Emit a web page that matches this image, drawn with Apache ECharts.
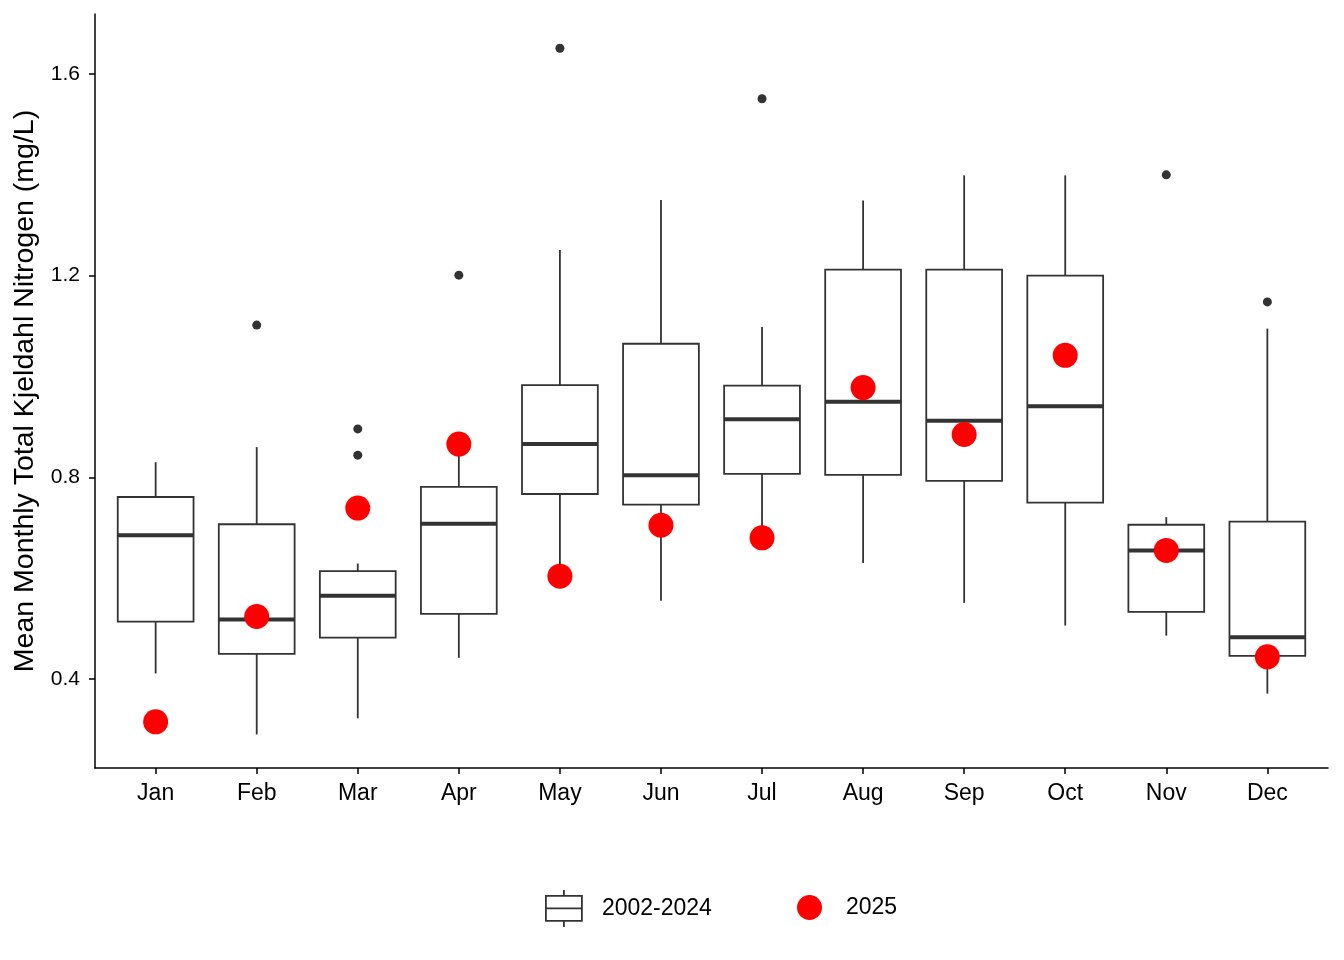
<!DOCTYPE html>
<html>
<head>
<meta charset="utf-8">
<script src="https://cdn.jsdelivr.net/npm/echarts@6/dist/echarts.min.js"></script>
<style>
html,body{margin:0;padding:0;background:#fff;}
#chart{width:1344px;height:960px;}
</style>
</head>
<body>
<div id="chart"></div>
<script>
const months = ['Jan','Feb','Mar','Apr','May','Jun','Jul','Aug','Sep','Oct','Nov','Dec'];
const whiskerLow  = [0.411, 0.290, 0.322, 0.442, 0.610, 0.555, 0.690, 0.630, 0.551, 0.506, 0.486, 0.371];
const q1          = [0.514, 0.450, 0.482, 0.529, 0.767, 0.746, 0.807, 0.805, 0.793, 0.750, 0.533, 0.446];
const median      = [0.685, 0.518, 0.565, 0.708, 0.866, 0.804, 0.915, 0.950, 0.912, 0.941, 0.655, 0.483];
const q3          = [0.761, 0.707, 0.614, 0.781, 0.983, 1.065, 0.982, 1.212, 1.212, 1.200, 0.706, 0.712];
const whiskerHigh = [0.830, 0.860, 0.629, 0.850, 1.251, 1.350, 1.098, 1.349, 1.399, 1.399, 0.721, 1.095];
const outlierMonth = [2, 3, 3, 4, 5, 7, 11, 12];
const outlierValue = [1.102, 0.896, 0.844, 1.201, 1.651, 1.551, 1.400, 1.148];
const values2025  = [0.315, 0.524, 0.739, 0.866, 0.604, 0.705, 0.680, 0.978, 0.885, 1.042, 0.655, 0.444];
const yTicks = [0.4, 0.8, 1.2, 1.6];

const FONT = "'Liberation Sans', Arial, sans-serif";
const INK = '#333333';

const boxData = months.map((m, i) => [i + 1, whiskerLow[i], q1[i], median[i], q3[i], whiskerHigh[i]]);
const outlierData = outlierMonth.map((m, i) => [m, outlierValue[i]]);
const pointData = months.map((m, i) => [i + 1, values2025[i]]);

const chart = echarts.init(document.getElementById('chart'), null, {renderer: 'canvas'});
chart.setOption({
  animation: false,
  backgroundColor: '#ffffff',
  textStyle: {fontFamily: FONT},
  grid: {left: 95, right: 16, top: 14, bottom: 192, containLabel: false, outerBoundsMode: 'none'},
  xAxis: {
    type: 'value',
    min: 0.4,
    max: 12.6,
    splitLine: {show: false},
    axisLine: {show: true, lineStyle: {color: '#000', width: 1.5}},
    axisTick: {show: true, length: 6, lineStyle: {color: '#000', width: 1.5}, customValues: months.map((m, i) => i + 1)},
    axisLabel: {
      customValues: months.map((m, i) => i + 1),
      formatter: v => months[Math.round(v) - 1] || '',
      color: '#000', fontSize: 23, fontFamily: FONT, margin: 14
    }
  },
  yAxis: {
    type: 'value',
    min: 0.2235,
    max: 1.719,
    name: 'Mean Monthly Total Kjeldahl Nitrogen (mg/L)',
    nameLocation: 'middle',
    nameRotate: 90,
    nameGap: 54,
    nameTextStyle: {color: '#000', fontSize: 28.5, fontFamily: FONT},
    splitLine: {show: false},
    axisLine: {show: true, lineStyle: {color: '#000', width: 1.5}},
    axisTick: {show: true, length: 6, lineStyle: {color: '#000', width: 1.5}, customValues: yTicks},
    axisLabel: {
      customValues: yTicks,
      formatter: v => v.toFixed(1),
      color: '#000', fontSize: 21, fontFamily: FONT, margin: 15
    }
  },
  legend: [
    {
      data: ['2002-2024'],
      left: 545, top: 889,
      padding: 0,
      itemWidth: 36, itemHeight: 37,
      icon: 'path://M18,0L18,6M0,6L36,6L36,31L0,31ZM0,18.5L36,18.5M18,31L18,37',
      itemStyle: {color: '#ffffff', borderColor: INK, borderWidth: 1.8},
      textStyle: {color: '#000', fontSize: 23, fontFamily: FONT, padding: [0, 0, 0, 15]},
      selectedMode: false
    },
    {
      data: ['2025'],
      left: 797, top: 895,
      padding: 0,
      itemWidth: 25, itemHeight: 25,
      icon: 'circle',
      itemStyle: {color: '#ff0000', borderWidth: 0, opacity: 1},
      textStyle: {color: '#000', fontSize: 23, fontFamily: FONT, padding: [0, 0, 0, 19]},
      selectedMode: false
    }
  ],
  series: [
    {
      name: '2002-2024',
      type: 'custom',
      itemStyle: {color: '#ffffff', borderColor: INK, borderWidth: 1.8},
      encode: {x: 0, y: [1, 2, 3, 4, 5]},
      data: boxData,
      renderItem: function (params, api) {
        const x = api.value(0);
        const pLo = api.coord([x, api.value(1)]);
        const pQ1 = api.coord([x, api.value(2)]);
        const pMed = api.coord([x, api.value(3)]);
        const pQ3 = api.coord([x, api.value(4)]);
        const pHi = api.coord([x, api.value(5)]);
        const half = api.size([0.75, 0])[0] / 2;
        const cx = pMed[0];
        const lw = 1.8;
        return {
          type: 'group',
          children: [
            {type: 'line', shape: {x1: cx, y1: pQ3[1], x2: cx, y2: pHi[1]}, style: {stroke: INK, lineWidth: lw}},
            {type: 'line', shape: {x1: cx, y1: pQ1[1], x2: cx, y2: pLo[1]}, style: {stroke: INK, lineWidth: lw}},
            {type: 'rect', shape: {x: cx - half, y: pQ3[1], width: 2 * half, height: pQ1[1] - pQ3[1]}, style: {fill: '#ffffff', stroke: INK, lineWidth: lw}},
            {type: 'line', shape: {x1: cx - half, y1: pMed[1], x2: cx + half, y2: pMed[1]}, style: {stroke: INK, lineWidth: 4}}
          ]
        };
      },
      z: 2
    },
    {
      name: 'outliers',
      type: 'scatter',
      data: outlierData,
      symbol: 'circle',
      symbolSize: 9,
      itemStyle: {color: INK, opacity: 1},
      z: 3
    },
    {
      name: '2025',
      type: 'scatter',
      data: pointData,
      symbol: 'circle',
      symbolSize: 25,
      itemStyle: {color: '#ff0000', opacity: 1},
      z: 4
    }
  ]
});
</script>
</body>
</html>
